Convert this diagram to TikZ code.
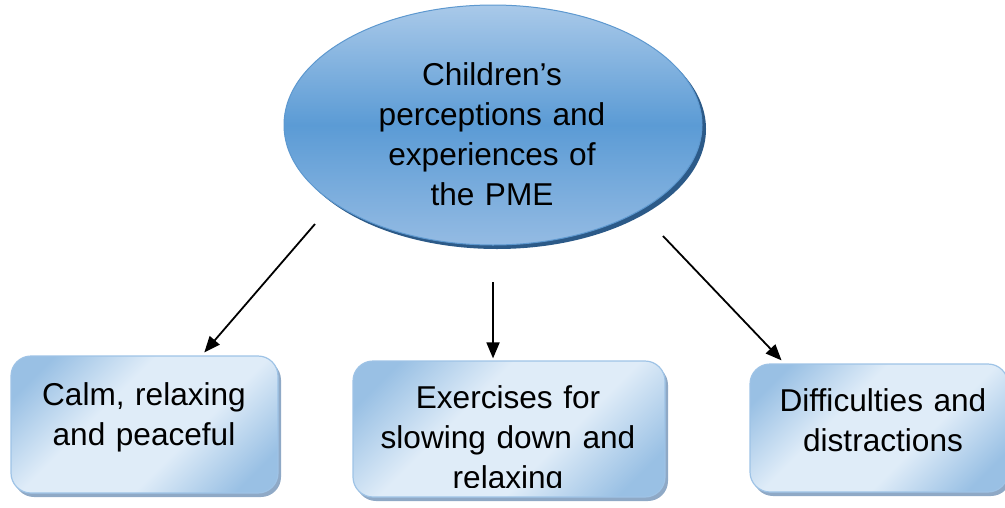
\documentclass[tikz,border=0pt]{standalone}
\usepackage{fontspec}
\setmainfont{Liberation Sans}
\usetikzlibrary{arrows.meta,shadows,calc,shapes.geometric}

\definecolor{ovaltop}{HTML}{A9C9E9}
\definecolor{ovalmid}{HTML}{5B9BD5}
\definecolor{ovalbot}{HTML}{94BBE3}
\definecolor{ovalline}{HTML}{5D98CF}
\definecolor{ovalshadow}{HTML}{2C5A88}
\definecolor{boxdark}{HTML}{99C0E4}
\definecolor{boxlight}{HTML}{DFECF8}
\definecolor{boxline}{HTML}{9EC3E6}
\definecolor{boxshadow}{HTML}{8FA9C6}

% diagonal sheen for the theme boxes: light band, darker corners
\pgfdeclarehorizontalshading{boxsheen}{100bp}{
  color(0bp)=(boxdark); color(22bp)=(boxdark); color(40bp)=(boxlight);
  color(60bp)=(boxlight); color(78bp)=(boxdark); color(100bp)=(boxdark)}

\tikzset{
  topic/.style={ellipse, draw=ovalline, line width=1pt,
    top color=ovaltop, bottom color=ovalbot, middle color=ovalmid,
    drop shadow={shadow xshift=4pt, shadow yshift=-4pt, fill=ovalshadow, opacity=1},
    inner sep=0pt},
  theme/.style={rectangle, rounded corners=20pt, draw=boxline, line width=1.2pt,
    shading=boxsheen, shading angle=-45,
    drop shadow={shadow xshift=3pt, shadow yshift=-4pt, fill=boxshadow, opacity=1},
    inner sep=0pt},
  caption/.style={font=\fontsize{31.6}{40}\selectfont, align=center, text width=330pt,
    anchor=base, inner sep=0pt},
  linkarrow/.style={line width=1.8pt, -{Triangle[length=16pt,width=13pt]}},
}

\begin{document}
\begin{tikzpicture}[x=1pt, y=-1pt]
  \useasboundingbox (0,0) rectangle (1005,507);
  \clip (0,0) rectangle (1005,507);

  % central topic
  \node[topic, minimum width=418pt, minimum height=240pt] (pme) at (493,125) {};
  \node[caption] (pmetext) at (492,85) {Children’s\\perceptions and\\experiences of\\the PME};

  % three themes
  \node[theme, minimum width=267pt, minimum height=137pt] (calm) at (144.5,424.5) {};
  \node[theme, minimum width=312pt, minimum height=136pt] (exer) at (509,429) {};
  \node[theme, minimum width=258pt, minimum height=128pt] (diff) at (879,428) {};

  \node[caption] (calmtext) at (144,405) {Calm, relaxing\\and peaceful};
  \begin{scope}
    \clip (353,361) rectangle (665,487);
    \node[caption] (exertext) at (508,408) {Exercises for\\slowing down and\\relaxing};
  \end{scope}
  \node[caption] (difftext) at (883,411) {Difficulties and\\distractions};

  % connectors
  \coordinate (s1) at (315,224);
  \coordinate (s2) at (493,282);
  \coordinate (s3) at (663,236);
  \draw[linkarrow] (s1) -- ($(calm.north west)!0.723!(calm.north east)+(0,-3)$);
  \draw[linkarrow] (s2) -- ($(exer.north west)!0.449!(exer.north east)+(0,-2)$);
  \draw[linkarrow] (s3) -- ($(diff.north west)!0.124!(diff.north east)+(0,-3)$);
\end{tikzpicture}
\end{document}
